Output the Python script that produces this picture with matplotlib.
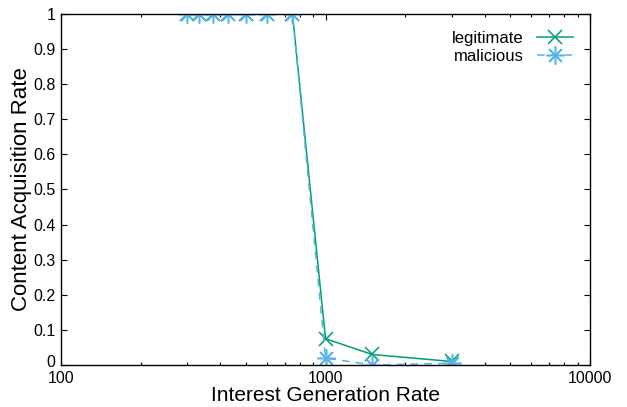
import matplotlib
matplotlib.use("Agg")
import matplotlib.pyplot as plt
from matplotlib.ticker import FixedLocator, LogLocator, NullFormatter
from matplotlib.transforms import ScaledTranslation

plt.rcParams["font.family"] = ["Liberation Sans", "DejaVu Sans"]

# interest generation rates (3000/n)
rates = [300, 333.3, 375, 428.6, 500, 600, 750, 1000, 1500, 3000]
legitimate = [1, 1, 1, 1, 1, 1, 1, 0.075, 0.03, 0.01]
malicious = [1, 1, 1, 1, 1, 1, 1, 0.02, 0.0, 0.005]
y_ticks = [0, 0.1, 0.2, 0.3, 0.4, 0.5, 0.6, 0.7, 0.8, 0.9, 1]
y_tick_labels = ["0", "0.1", "0.2", "0.3", "0.4", "0.5", "0.6", "0.7", "0.8", "0.9", "1"]
x_ticks = [100, 1000, 10000]
x_tick_labels = ["100", "1000", "10000"]

fig = plt.figure(figsize=(6.27, 4.07), dpi=100)
ax = fig.add_axes([0.0973, 0.1032, 0.8437, 0.8624])

ax.plot(rates, legitimate, color="#009e73", lw=1.1, marker="x", ms=10.5,
        mew=1.1, label="legitimate")
ax.plot(rates, malicious, color="#56b4e9", lw=1.1, ls=(0, (5, 4)),
        marker=(8, 2, 0), ms=13, mew=1.1, label="malicious")

ax.set_xscale("log")
ax.set_xlim(100, 10000)
ax.set_ylim(0, 1)
ax.xaxis.set_major_locator(FixedLocator(x_ticks))
ax.set_xticklabels(x_tick_labels)
ax.xaxis.set_minor_locator(LogLocator(base=10, subs=range(2, 10)))
ax.xaxis.set_minor_formatter(NullFormatter())
ax.set_yticks(y_ticks)
ax.set_yticklabels(y_tick_labels)

ax.tick_params(which="both", direction="in", top=True, right=True,
               labelsize=11.5, color="black")
ax.tick_params(which="major", length=4, width=0.8)
ax.tick_params(axis="y", which="major", pad=4)
ax.tick_params(axis="x", which="major", pad=4)
ax.tick_params(which="minor", length=2, width=0.8)
for s in ax.spines.values():
    s.set_linewidth(1.0)

# nudge the "0" label up a little so it clears the "100" below it
zero_lbl = ax.get_yticklabels()[0]
zero_lbl.set_transform(zero_lbl.get_transform()
                       + ScaledTranslation(0, 3 / 72, fig.dpi_scale_trans))

ax.set_xlabel("Interest Generation Rate", fontsize=15, labelpad=0.5)
ax.set_ylabel("Content Acquisition Rate", fontsize=16, labelpad=1)

ax.legend(loc="upper right", markerfirst=False, frameon=False, fontsize=12,
          handlelength=2.2, borderaxespad=0.6, labelspacing=0.2)

fig.savefig("out.png", dpi=100, facecolor="white")
